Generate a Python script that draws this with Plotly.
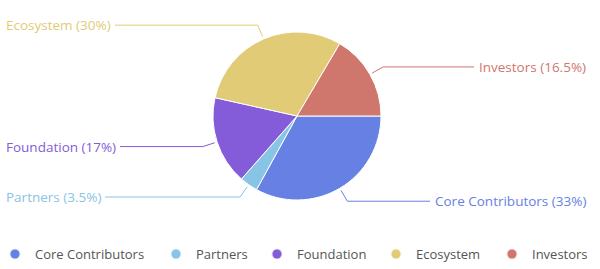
import math
import plotly.graph_objects as go

labels = ["Core Contributors", "Partners", "Foundation", "Ecosystem", "Investors"]
values = [33, 3.5, 17, 30, 16.5]
colors = ["#6681e3", "#87c4e6", "#845cd9", "#e2cb76", "#cf766d"]

W, H = 600, 269
cx, cy, R = 297, 116, 84
r_start, r_elbow = R + 2.5, R + 15
font_family = "Open Sans, Noto Sans, Arial, sans-serif"
legend_circle_x = [15, 176, 277, 396, 512]
legend_y = 254

fig = go.Figure()

fig.add_trace(go.Pie(
    labels=labels, values=values, sort=False, direction="clockwise", rotation=90,
    textinfo="none", showlegend=False,
    marker=dict(colors=colors, line=dict(color="white", width=1)),
    domain=dict(x=[(cx - R) / W, (cx + R) / W], y=[(H - cy - R) / H, (H - cy + R) / H]),
))

def rgba(hexc, a):
    h = hexc.lstrip("#")
    return "rgba(%d,%d,%d,%.2f)" % (int(h[0:2], 16), int(h[2:4], 16), int(h[4:6], 16), a)

legend_layouts = {}
for i, (lab, col) in enumerate(zip(labels, colors)):
    lname = "legend" if i == 0 else f"legend{i + 1}"
    fig.add_trace(go.Scatter(
        x=[None], y=[None], mode="markers", name=lab, legend=lname,
        marker=dict(color=col, size=9, line=dict(color=rgba(col, 0.2), width=2)),
    ))
    legend_layouts[lname] = dict(
        orientation="h", x=(legend_circle_x[i] - 20) / W, xanchor="left",
        y=(H - legend_y) / H, yanchor="middle",
        font=dict(family=font_family, size=13, color="#555555"),
        itemwidth=30, bgcolor="rgba(0,0,0,0)", borderwidth=0,
    )

total = sum(values)
cum = 0.0
shapes, annotations = [], []
for lab, val, col in zip(labels, values, colors):
    mid = 90 + (cum + val / 2) / total * 360
    cum += val
    t = math.radians(mid)
    sx, sy = math.sin(t), -math.cos(t)
    x0, y0 = cx + r_start * sx, cy + r_start * sy
    x1, y1 = cx + r_elbow * sx, cy + r_elbow * sy
    shapes.append(dict(type="line", xref="x", yref="y", x0=x0, y0=y0, x1=x1, y1=y1,
                       line=dict(color=col, width=1)))
    pct = ("%g" % val)
    left = sx < 0
    annotations.append(dict(
        x=x1, y=y1, xref="x", yref="y", axref="x", ayref="y",
        ax=0.5 if left else W - 9.5, ay=y1,
        xanchor="left" if left else "right", yanchor="middle",
        text=f"{lab} ({pct}%)", showarrow=True, arrowhead=0, arrowwidth=1,
        arrowcolor=col, standoff=0, startstandoff=0, borderpad=4,
        font=dict(family=font_family, size=13.5, color=col),
    ))

fig.update_layout(
    width=W, height=H, margin=dict(l=0, r=0, t=0, b=0, autoexpand=False),
    paper_bgcolor="white", plot_bgcolor="white",
    xaxis=dict(range=[0, W], visible=False, fixedrange=True),
    yaxis=dict(range=[H, 0], visible=False, fixedrange=True),
    shapes=shapes, annotations=annotations,
    **legend_layouts,
)

fig.write_html("out.html")
